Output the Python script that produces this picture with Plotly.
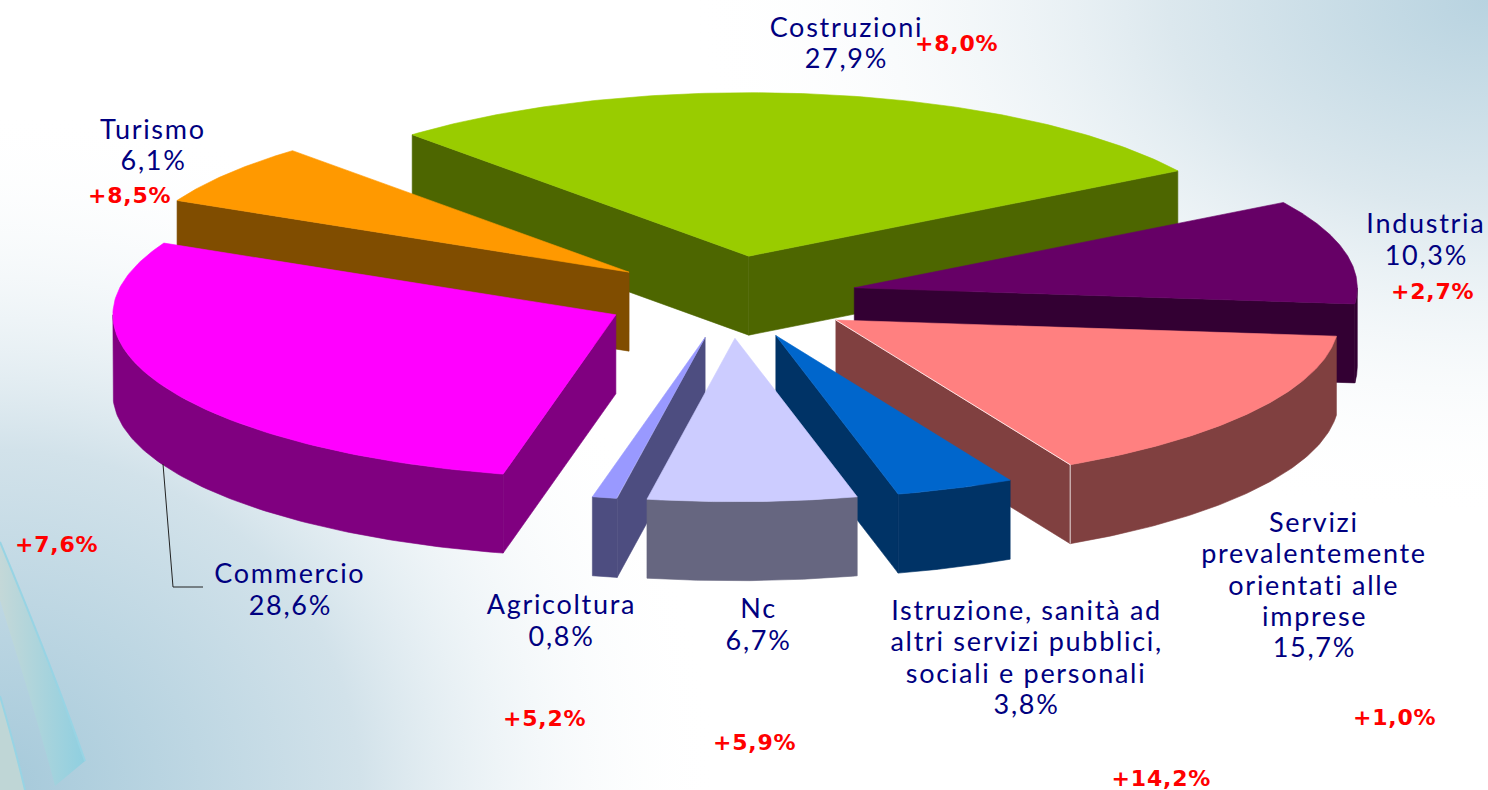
import base64
import numpy as np
import plotly.graph_objects as go

# ---- data ----
categories = ["Costruzioni", "Industria", "Servizi prevalentemente orientati alle imprese",
              "Istruzione, sanità ad altri servizi pubblici, sociali e personali",
              "Nc", "Agricoltura", "Commercio", "Turismo"]
shares = [27.9, 10.3, 15.7, 3.8, 6.7, 0.8, 28.6, 6.1]
changes = ["+8,0%", "+2,7%", "+1,0%", "+14,2%", "+5,9%", "+5,2%", "+7,6%", "+8,5%"]
label_text = ["Costruzioni<br>27,9%", "Industria<br>10,3%",
              "Servizi<br>prevalentemente<br>orientati alle<br>imprese<br>15,7%",
              "Istruzione, sanità ad<br>altri servizi pubblici,<br>sociali e personali<br>3,8%",
              "Nc<br>6,7%", "Agricoltura<br>0,8%", "Commercio<br>28,6%", "Turismo<br>6,1%"]
top_colors = ["#99CC00", "#660066", "#FF8080", "#0066CC", "#CCCCFF", "#9999FF", "#FF00FF", "#FF9900"]
side_colors = ["#4D6600", "#330033", "#804040", "#003366", "#666680", "#4D4D80", "#800080", "#804D00"]

# ---- styling / placement ----
label_xy = [(846, 42), (1426, 238.5), (1314, 584), (1026, 656.5), (758, 623.5), (561, 619.5), (290, 588.5), (153, 144)]
change_xy = [(956, 43), (1432, 291), (1394, 717), (1161, 778), (754, 742), (544, 718), (56, 544), (129, 195)]
draw_order = [0, 1, 7, 2, 6, 5, 3, 4]
W, H = 1488, 790
LINE_GAP = 31.4
CX, CY, R, TILT, DEPTH, EXPLODE, START = 730.5, 297.0, 503.0, 0.325, 79.0, 127.0, -42.0
BLUE_TEXT = "#000080"

total = sum(shares)
edges = START + np.concatenate([[0], np.cumsum(shares)]) / total * 360.0


def project(theta_deg, radius, apex):
    t = np.radians(theta_deg)
    return apex[0] + radius * np.sin(t), apex[1] - TILT * radius * np.cos(t)


def poly(fig, xs, ys, color, width=0.6):
    fig.add_trace(go.Scatter(x=list(xs) + [xs[0]], y=list(ys) + [ys[0]], mode="lines", fill="toself",
                             fillcolor=color, line=dict(color=color, width=width),
                             hoverinfo="skip", showlegend=False))


fig = go.Figure()
for i in draw_order:
    a0, a1 = edges[i], edges[i + 1]
    mid = np.radians((a0 + a1) / 2)
    apex = (CX + EXPLODE * np.sin(mid), CY - TILT * EXPLODE * np.cos(mid))
    side, top = side_colors[i], top_colors[i]
    # radial walls, only where they face the viewer
    visible = [(a0, np.cos(np.radians(a0 - 270)) > 0), (a1, np.cos(np.radians(a1 - 90)) > 0)]
    for a, show in visible:
        if show:
            ex, ey = project(a, R, apex)
            poly(fig, [apex[0], ex, ex, apex[0]], [apex[1], ey, ey + DEPTH, apex[1] + DEPTH], side)
    # outer curved wall (the part facing the viewer)
    lo, hi = a0 % 360, a1 % 360
    if hi < lo:
        hi += 360
    lo2, hi2 = max(lo, 90.0), min(hi, 270.0)
    if hi2 > lo2:
        th = np.linspace(lo2, hi2, 90)
        ox, oy = project(th, R, apex)
        poly(fig, np.concatenate([ox, ox[::-1]]), np.concatenate([oy, oy[::-1] + DEPTH]), side)
    # top face
    th = np.linspace(a0, a1, 120)
    tx, ty = project(th, R, apex)
    poly(fig, np.concatenate([[apex[0]], tx]), np.concatenate([[apex[1]], ty]), top)
    # thin pale edge at the Servizi corner
    if categories[i].startswith("Servizi"):
        ex, ey = project(a1, R, apex)
        fig.add_trace(go.Scatter(x=[apex[0], ex, ex], y=[apex[1], ey, ey + DEPTH], mode="lines",
                                 line=dict(color="rgba(255,255,255,0.8)", width=1),
                                 hoverinfo="skip", showlegend=False))

# leader line of Commercio
fig.add_trace(go.Scatter(x=[163, 173, 203], y=[464, 587, 587], mode="lines",
                         line=dict(color="#222222", width=1), hoverinfo="skip", showlegend=False))

for txt, (x, y) in zip(label_text, label_xy):
    lines = txt.split("<br>")
    for j, line in enumerate(lines):
        fig.add_annotation(x=x, y=y + (j - (len(lines) - 1) / 2) * LINE_GAP, text=line, showarrow=False,
                           xanchor="center", yanchor="middle",
                           font=dict(family="Lato, sans-serif", size=27, color=BLUE_TEXT))
for txt, (x, y) in zip(changes, change_xy):
    fig.add_annotation(x=x, y=y, text=txt, showarrow=False, xanchor="center", yanchor="middle",
                       font=dict(family="DejaVu Sans, sans-serif", size=22, color="#FF0000", weight="bold"))

svg = f'''<svg xmlns="http://www.w3.org/2000/svg" width="{W}" height="{H}" viewBox="0 0 {W} {H}">
<defs>
<radialGradient id="a" gradientUnits="userSpaceOnUse" cx="0" cy="0" r="1" gradientTransform="translate(0 790) scale(720 680)">
<stop offset="0" stop-color="#A5C9DA"/><stop offset="0.5" stop-color="#D2E2EA"/><stop offset="1" stop-color="#FFFFFF" stop-opacity="0"/></radialGradient>
<radialGradient id="b" gradientUnits="userSpaceOnUse" cx="0" cy="0" r="1" gradientTransform="translate(1488 0) scale(800 520)">
<stop offset="0" stop-color="#B8D3E0"/><stop offset="0.4" stop-color="#DCE8EE"/><stop offset="1" stop-color="#FFFFFF" stop-opacity="0"/></radialGradient>
<linearGradient id="c" x1="0" y1="0" x2="1" y2="0">
<stop offset="0" stop-color="#C4D8D8"/><stop offset="1" stop-color="#8FCFE0"/></linearGradient>
</defs>
<rect width="{W}" height="{H}" fill="#FFFFFF"/>
<rect width="{W}" height="{H}" fill="url(#a)"/>
<rect width="{W}" height="{H}" fill="url(#b)"/>
<path d="M0 542 C20 590 55 675 85 761 L55 786 C35 710 15 650 0 600 Z" fill="url(#c)"/>
<path d="M0 542 C20 590 55 675 85 761" fill="none" stroke="#98D4E4" stroke-width="2"/>
<path d="M0 696 C10 730 18 760 25 790 L0 790 Z" fill="#BFD6D6"/>
<path d="M0 696 C10 730 18 760 25 790" fill="none" stroke="#98D4E4" stroke-width="2"/>
</svg>'''
bg = "data:image/svg+xml;base64," + base64.b64encode(svg.encode()).decode()

fig.update_layout(
    width=W, height=H, margin=dict(l=0, r=0, t=0, b=0), showlegend=False,
    paper_bgcolor="white", plot_bgcolor="rgba(0,0,0,0)",
    xaxis=dict(range=[0, W], visible=False, fixedrange=True),
    yaxis=dict(range=[H, 0], visible=False, fixedrange=True),
    images=[dict(source=bg, xref="paper", yref="paper", x=0, y=1, sizex=1, sizey=1,
                 sizing="stretch", xanchor="left", yanchor="top", layer="below")],
)
post = """
document.body.style.margin='0';
document.documentElement.style.overflow='hidden';
document.querySelectorAll('.annotation-text').forEach(function(t){
  t.style.letterSpacing = t.textContent.indexOf('+') === 0 ? '0.8px' : '1.7px';
});
"""
fig.write_html("out.html", config={"displayModeBar": False}, post_script=post)
